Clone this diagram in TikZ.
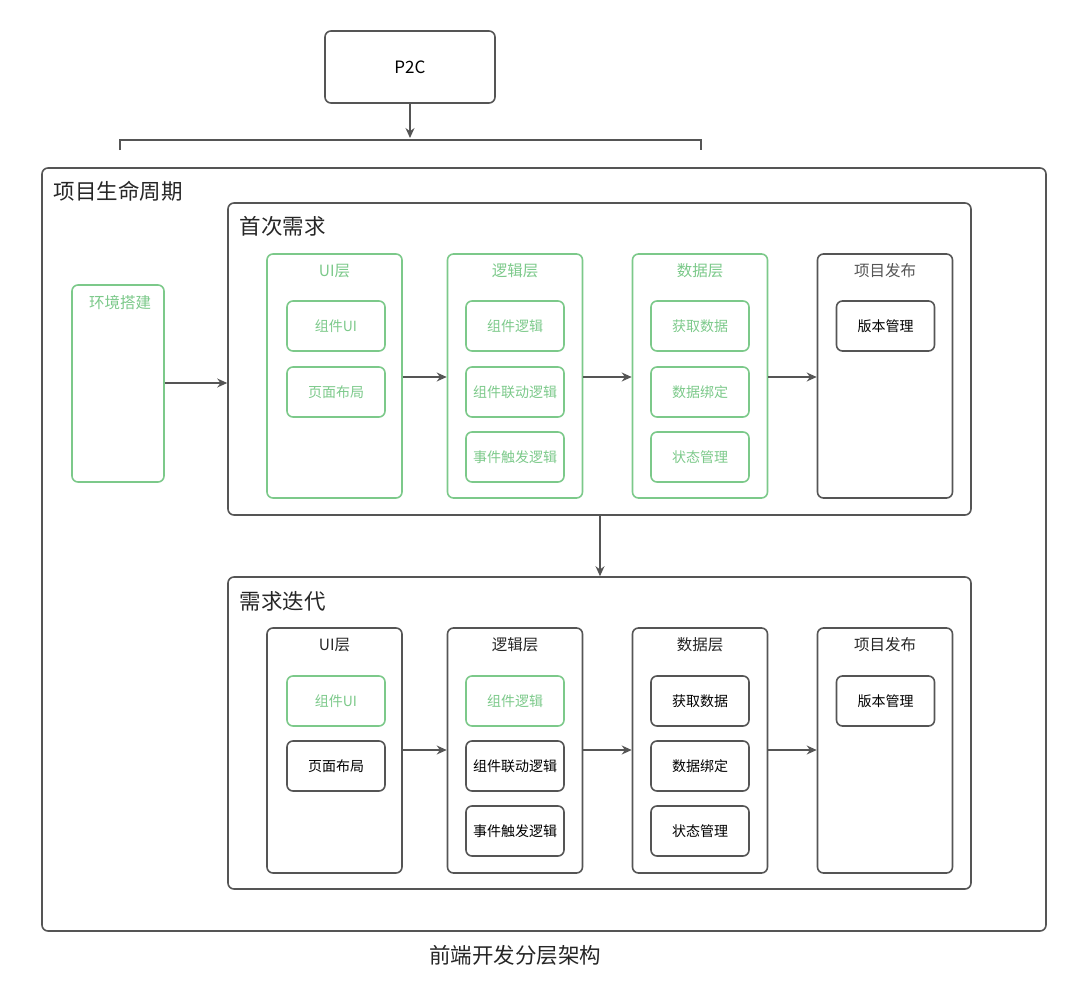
\documentclass[tikz,border=0pt]{standalone}
\usepackage{fontspec}
\setmainfont{Noto Sans CJK SC}
\usetikzlibrary{arrows.meta}
\definecolor{gr}{HTML}{7CC98A}
\definecolor{dk}{HTML}{555555}
\begin{document}
\begin{tikzpicture}[x=1pt,y=-1pt,
 box/.style={draw=dk,line width=1.6pt,rounded corners=6pt},
 gbox/.style={draw=gr,line width=1.6pt,rounded corners=6pt},
 arr/.style={draw=dk,line width=1.3pt,-{Stealth[length=10pt,width=9pt]}},
 big/.style={font=\fontsize{21.5}{24}\selectfont,text=black!85},
 ttl/.style={font=\fontsize{15.5}{18}\selectfont},
 itm/.style={font=\fontsize{14}{16}\selectfont}]
\useasboundingbox (0,0) rectangle (1080,983);
\node[box,minimum width=170pt,minimum height=72pt,font=\fontsize{17}{20}\selectfont] (p2c) at (410,67) {P2C};
\coordinate (br) at (410,138);
\draw[arr] (p2c.south) -- (br);
\draw[dk,line width=1.3pt] (120,150) -- (120,140) -- (701,140) -- (701,150);
\draw[box] (42,168) rectangle (1046,931);
\node[big,anchor=west] (life) at (50,191) {项目生命周期};
\node[gbox,minimum width=92pt,minimum height=197pt] (env) at (118,383.5) {};
\node[ttl,text=gr] at (120,303) {环境搭建};
\node[box,minimum width=743pt,minimum height=312pt] (first) at (599.5,359) {};
\node[big,anchor=west] at (236,226) {首次需求};
\node[box,minimum width=743pt,minimum height=312pt] (iter) at (599.5,733) {};
\node[big,anchor=west] at (236,601) {需求迭代};
\draw[arr] (env.east|-0,383) -- (first.west|-0,383);
\draw[arr] (first.south-|600,0) -- (iter.north-|600,0);
\foreach \cx/\nm/\st in {334.5/u/gbox,515/l/gbox,700/d/gbox,885/p/box}{
  \node[\st,minimum width=135pt,minimum height=244pt] (\nm1) at (\cx,376) {};
  \node[box,minimum width=135pt,minimum height=245pt] (\nm2) at (\cx,750.5) {};
}
\foreach \cx/\t/\c in {334.5/UI层/gr,515/逻辑层/gr,700/数据层/gr,885/项目发布/dk}{
  \node[ttl,text=\c] at (\cx,271) {\t};}
\foreach \cx/\t in {334.5/UI层,515/逻辑层,700/数据层,885/项目发布}{
  \node[ttl,text=black!85] at (\cx,645) {\t};}
\tikzset{ib/.style={minimum width=98pt,minimum height=50pt,itm}}
\node[gbox,ib,text=gr] (a1) at (336,326) {组件UI};
\node[gbox,ib,text=gr] (a2) at (336,392) {页面布局};
\node[gbox,ib,text=gr] (b1) at (515,326) {组件逻辑};
\node[gbox,ib,text=gr] (b2) at (515,392) {组件联动逻辑};
\node[gbox,ib,text=gr] (b3) at (515,457) {事件触发逻辑};
\node[gbox,ib,text=gr] (c1) at (700,326) {获取数据};
\node[gbox,ib,text=gr] (c2) at (700,392) {数据绑定};
\node[gbox,ib,text=gr] (c3) at (700,457) {状态管理};
\node[box,ib] (e1) at (885.5,326) {版本管理};
\node[gbox,ib,text=gr] (a4) at (336,701) {组件UI};
\node[box,ib] (a5) at (336,766) {页面布局};
\node[gbox,ib,text=gr] (b4) at (515,701) {组件逻辑};
\node[box,ib] (b5) at (515,766) {组件联动逻辑};
\node[box,ib] (b6) at (515,831) {事件触发逻辑};
\node[box,ib] (c4) at (700,701) {获取数据};
\node[box,ib] (c5) at (700,766) {数据绑定};
\node[box,ib] (c6) at (700,831) {状态管理};
\node[box,ib] (e2) at (885.5,701) {版本管理};
\draw[arr] (u1.east|-0,377) -- (l1.west|-0,377);
\draw[arr] (l1.east|-0,377) -- (d1.west|-0,377);
\draw[arr] (d1.east|-0,377) -- (p1.west|-0,377);
\draw[arr] (u2.east|-0,750) -- (l2.west|-0,750);
\draw[arr] (l2.east|-0,750) -- (d2.west|-0,750);
\draw[arr] (d2.east|-0,750) -- (p2.west|-0,750);
\node[big] (cap) at (515,955) {前端开发分层架构};
\end{tikzpicture}
\end{document}
